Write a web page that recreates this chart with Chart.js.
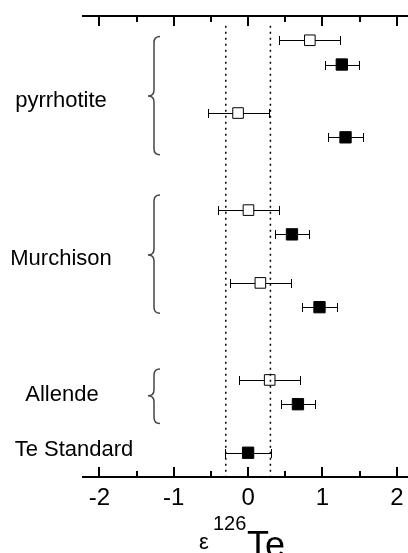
<!DOCTYPE html>
<html>
<head>
<meta charset="utf-8">
<script src="https://cdn.jsdelivr.net/npm/chart.js@4.4.0/dist/chart.umd.min.js"></script>
<style>
  html, body { margin: 0; padding: 0; background: #fff; overflow: hidden; }
  #grafico { display: block; }
</style>
</head>
<body>
<canvas id="grafico" width="408" height="553"></canvas>
<script>
// dados (linha 0 = topo)
const abertoX = [0.83, -0.135, 0.005, 0.165, 0.29]
const abertoLinha = [0, 3, 7, 10, 14]
const abertoErro = [0.41, 0.41, 0.41, 0.415, 0.41]

const cheioX = [1.26, 1.31, 0.59, 0.96, 0.67, 0.0]
const cheioLinha = [1, 4, 8, 11, 15, 17]
const cheioErro = [0.23, 0.23, 0.23, 0.23, 0.23, 0.305]

const limitePadrao = [-0.3, 0.3]

const grupos = ['pyrrhotite', 'Murchison', 'Allende', 'Te Standard']
const grupoLinha = [2.5, 9.0, 14.6, 16.9]
// chave: inicio, ponta, fim (em linhas)
const chaves = [[-0.15, 2.3, 4.72], [6.38, 8.85, 11.25], [13.55, 14.65, 15.8], null]

const xTicks = [-2, -1, 0, 1, 2]
const xTicksMenores = [-2, -1.5, -1, -0.5, 0, 0.5, 1, 1.5, 2]

// centro horizontal de cada rotulo (px)
const rotuloCentro = [61, 61, 62, 74]

function pontos(xs, linhas) {
  return xs.map((x, i) => ({ x: x, y: linhas[i] }))
}

function linhaVertical(x) {
  return {
    type: 'line',
    data: [{ x: x, y: -0.6 }, { x: x, y: 18 }],
    borderColor: '#000',
    borderWidth: 1.5,
    borderDash: [2, 4],
    pointRadius: 0,
    showLine: true
  }
}

const barrasErro = {
  id: 'barrasErro',
  beforeDatasetsDraw(chart) {
    const ctx = chart.ctx
    const sx = chart.scales.x, sy = chart.scales.y
    const desenha = (xs, linhas, erros) => {
      xs.forEach((x, i) => {
        const y = Math.round(sy.getPixelForValue(linhas[i])) + 0.5
        const x1 = Math.round(sx.getPixelForValue(x - erros[i])) + 0.5
        const x2 = Math.round(sx.getPixelForValue(x + erros[i])) + 0.5
        ctx.beginPath()
        ctx.moveTo(x1, y); ctx.lineTo(x2, y)
        ctx.moveTo(x1, y - 4.5); ctx.lineTo(x1, y + 4.5)
        ctx.moveTo(x2, y - 4.5); ctx.lineTo(x2, y + 4.5)
        ctx.stroke()
      })
    }
    ctx.save()
    ctx.strokeStyle = '#000'
    ctx.lineWidth = 1
    desenha(abertoX, abertoLinha, abertoErro)
    desenha(cheioX, cheioLinha, cheioErro)
    ctx.restore()
  }
}

const extras = {
  id: 'extras',
  afterDraw(chart) {
    const ctx = chart.ctx
    const sx = chart.scales.x, sy = chart.scales.y
    const area = chart.chartArea
    ctx.save()
    // ticks para dentro
    ctx.strokeStyle = '#000'
    ctx.lineWidth = 2
    xTicksMenores.forEach(v => {
      const px = Math.round(sx.getPixelForValue(v))
      const len = Number.isInteger(v) ? 10 : 6
      ctx.beginPath()
      ctx.moveTo(px, area.top); ctx.lineTo(px, area.top + len)
      ctx.moveTo(px, area.bottom); ctx.lineTo(px, area.bottom - len)
      ctx.stroke()
    })
    // rotulos dos grupos e chaves
    ctx.fillStyle = '#000'
    ctx.font = '22px "Liberation Sans", Arial, sans-serif'
    ctx.textAlign = 'center'
    ctx.textBaseline = 'middle'
    grupos.forEach((g, i) => {
      ctx.fillText(g, rotuloCentro[i], sy.getPixelForValue(grupoLinha[i]))
    })
    ctx.strokeStyle = '#444'
    ctx.lineWidth = 1.5
    chaves.forEach(c => {
      if (!c) return
      const yT = sy.getPixelForValue(c[0])
      const yM = sy.getPixelForValue(c[1])
      const yB = sy.getPixelForValue(c[2])
      const xv = 154, xr = 160, xp = 148, r = 6
      ctx.beginPath()
      ctx.moveTo(xr, yT)
      ctx.quadraticCurveTo(xv, yT, xv, yT + r)
      ctx.lineTo(xv, yM - r)
      ctx.quadraticCurveTo(xv, yM, xp, yM)
      ctx.quadraticCurveTo(xv, yM, xv, yM + r)
      ctx.lineTo(xv, yB - r)
      ctx.quadraticCurveTo(xv, yB, xr, yB)
      ctx.stroke()
    })
    // titulo do eixo
    ctx.textAlign = 'left'
    ctx.textBaseline = 'alphabetic'
    ctx.font = '22px "Liberation Sans", Arial, sans-serif'
    ctx.fillText('\u03b5', 199, 549)
    ctx.font = '20px "Liberation Sans", Arial, sans-serif'
    ctx.fillText('126', 213, 530)
    ctx.font = '36px "Liberation Sans", Arial, sans-serif'
    ctx.fillText('Te', 247, 557)
    ctx.restore()
  }
}

const grafico = new Chart(document.getElementById('grafico'), {
  type: 'scatter',
  data: {
    datasets: [
      linhaVertical(limitePadrao[0]),
      linhaVertical(limitePadrao[1]),
      {
        label: 'aberto',
        data: pontos(abertoX, abertoLinha),
        pointStyle: 'rect',
        pointRadius: 7.5,
        pointHoverRadius: 7.5,
        backgroundColor: '#fff',
        borderColor: '#000',
        borderWidth: 1
      },
      {
        label: 'cheio',
        data: pontos(cheioX, cheioLinha),
        pointStyle: 'rect',
        pointRadius: 8,
        pointHoverRadius: 8,
        backgroundColor: '#000',
        borderColor: '#000',
        borderWidth: 1
      }
    ]
  },
  options: {
    responsive: false,
    animation: false,
    layout: { autoPadding: false, padding: { left: 83, right: 0, top: 16, bottom: 0 } },
    plugins: { legend: { display: false }, tooltip: { enabled: false } },
    scales: {
      x: {
        type: 'linear',
        position: 'bottom',
        min: -2.22,
        max: 2.15,
        afterBuildTicks: s => { s.ticks = xTicks.map(v => ({ value: v })) },
        afterFit: s => { s.height = 76; s.paddingLeft = 0; s.paddingRight = 0 },
        grid: { drawOnChartArea: false, drawTicks: false },
        border: { display: true, color: '#000', width: 2 },
        ticks: {
          padding: 7,
          color: '#000',
          font: { family: '"Liberation Sans", Arial, sans-serif', size: 24 }
        }
      },
      x2: {
        type: 'linear',
        position: 'top',
        min: -2.22,
        max: 2.15,
        afterFit: s => { s.height = 0; s.paddingLeft = 0; s.paddingRight = 0 },
        grid: { drawOnChartArea: false, drawTicks: false },
        border: { display: true, color: '#000', width: 2 },
        ticks: { display: false }
      },
      y: {
        type: 'linear',
        reverse: true,
        min: -1,
        max: 18,
        display: false
      }
    }
  },
  plugins: [barrasErro, extras]
})
</script>
</body>
</html>
